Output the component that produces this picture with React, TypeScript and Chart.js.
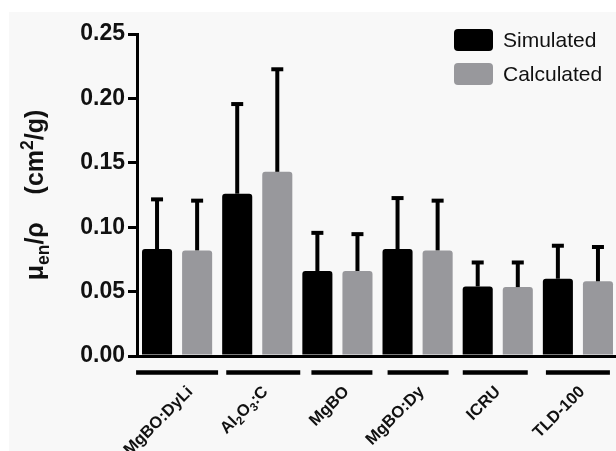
import React, { useEffect, useRef } from 'react';
import { Chart, registerables } from 'chart.js';

Chart.register(...registerables);

const FAMILY = '"Liberation Sans", Arial, Helvetica, sans-serif';

const categories = ['MgBO:DyLi', 'Al_2O_3:C', 'MgBO', 'MgBO:Dy', 'ICRU', 'TLD-100'];
const seriesNames = ['Simulated', 'Calculated'];
const simulated = [0.083, 0.126, 0.066, 0.083, 0.054, 0.060];
const simulatedErr = [0.039, 0.070, 0.030, 0.040, 0.019, 0.026];
const calculated = [0.082, 0.143, 0.066, 0.082, 0.0535, 0.058];
const calculatedErr = [0.039, 0.080, 0.029, 0.039, 0.0195, 0.027];
const yTicks = [0, 0.05, 0.1, 0.15, 0.2, 0.25];
const yTitle = 'μ_{en}/ρ    (cm^{2}/g)';

const seriesColors = ['#000000', '#98989c'];

// style: underline bar extents (px from category centre) and label anchor shifts
const underlineExtents = [
  [-41, 41],
  [-31, 43],
  [-26, 35],
  [-30, 31],
  [-35, 30],
  [-32, 32],
];
const labelShift = [14, 9, 10, 5, 1, 5];

type Seg = { t: string; k: number };

function parseRich(s: string): Seg[] {
  const out: Seg[] = [];
  let buf = '';
  let i = 0;
  const flush = () => {
    if (buf) {
      out.push({ t: buf, k: 0 });
      buf = '';
    }
  };
  while (i < s.length) {
    const c = s[i];
    if (c === '_' || c === '^') {
      flush();
      const k = c === '^' ? 1 : -1;
      let t = '';
      if (s[i + 1] === '{') {
        const j = s.indexOf('}', i + 2);
        t = s.slice(i + 2, j);
        i = j + 1;
      } else {
        t = s[i + 1];
        i += 2;
      }
      out.push({ t, k });
    } else {
      buf += c;
      i++;
    }
  }
  flush();
  return out;
}

function drawRich(
  ctx: CanvasRenderingContext2D,
  s: string,
  x: number,
  y: number,
  size: number,
  weight: string,
  align: 'left' | 'right' | 'center'
) {
  const segs = parseRich(s);
  const font = (sz: number) => `${weight} ${sz}px ${FAMILY}`;
  const widths = segs.map((g) => {
    ctx.font = font(g.k ? size * 0.7 : size);
    return ctx.measureText(g.t).width;
  });
  const total = widths.reduce((a, b) => a + b, 0);
  let cx = align === 'left' ? x : align === 'right' ? x - total : x - total / 2;
  ctx.textAlign = 'left';
  ctx.textBaseline = 'alphabetic';
  segs.forEach((g, idx) => {
    ctx.font = font(g.k ? size * 0.7 : size);
    const dy = g.k === 1 ? -size * 0.42 : g.k === -1 ? size * 0.22 : 0;
    ctx.fillText(g.t, cx, y + dy);
    cx += widths[idx];
  });
}

const decorPlugin = {
  id: 'decor',
  beforeDraw(chart: any) {
    const ctx = chart.ctx as CanvasRenderingContext2D;
    ctx.save();
    ctx.fillStyle = '#ffffff';
    ctx.fillRect(0, 0, chart.width, chart.height);
    ctx.fillStyle = '#f8f8f8';
    ctx.fillRect(9, 12, chart.width - 9, chart.height - 12);
    ctx.restore();
  },
  afterDatasetsDraw(chart: any) {
    const ctx = chart.ctx as CanvasRenderingContext2D;
    const yScale = chart.scales.y;
    const errs = [simulatedErr, calculatedErr];
    const vals = [simulated, calculated];
    ctx.save();
    ctx.strokeStyle = '#000';
    ctx.lineWidth = 4;
    ctx.lineCap = 'butt';
    chart.data.datasets.forEach((_: any, d: number) => {
      const meta = chart.getDatasetMeta(d);
      meta.data.forEach((el: any, i: number) => {
        const top = yScale.getPixelForValue(vals[d][i] + errs[d][i]);
        ctx.beginPath();
        ctx.moveTo(el.x, el.y);
        ctx.lineTo(el.x, top);
        ctx.stroke();
        ctx.beginPath();
        ctx.moveTo(el.x - 6, top + 0.5);
        ctx.lineTo(el.x + 6, top + 0.5);
        ctx.stroke();
      });
    });
    ctx.restore();
  },
  afterDraw(chart: any) {
    const ctx = chart.ctx as CanvasRenderingContext2D;
    const xScale = chart.scales.x;
    const area = chart.chartArea;
    ctx.save();
    ctx.fillStyle = '#111';
    ctx.strokeStyle = '#000';
    categories.forEach((lab, i) => {
      const cx = xScale.getPixelForValue(i);
      const ext = underlineExtents[i];
      ctx.lineWidth = 4.5;
      ctx.beginPath();
      ctx.moveTo(cx + ext[0], area.bottom + 16.5);
      ctx.lineTo(cx + ext[1], area.bottom + 16.5);
      ctx.stroke();
      ctx.save();
      ctx.translate(cx + labelShift[i] - 6, area.bottom + 28);
      ctx.rotate(-Math.PI / 4);
      drawRich(ctx, lab, 0, 12, 16.5, 'bold', 'right');
      ctx.restore();
    });
    // y-axis title
    ctx.save();
    ctx.translate(43, 195);
    ctx.rotate(-Math.PI / 2);
    drawRich(ctx, yTitle, 0, 0, 25, 'bold', 'center');
    ctx.restore();
    // legend
    const lx = 454;
    const ly = [29, 63];
    seriesNames.forEach((name, i) => {
      ctx.fillStyle = seriesColors[i];
      ctx.beginPath();
      (ctx as any).roundRect(lx, ly[i], 39, 22, 4);
      ctx.fill();
      ctx.fillStyle = '#111';
      ctx.font = `normal 21px ${FAMILY}`;
      ctx.textAlign = 'left';
      ctx.textBaseline = 'middle';
      ctx.fillText(name, lx + 49, ly[i] + 12);
    });
    ctx.restore();
  },
};

export default function App() {
  const ref = useRef<HTMLCanvasElement>(null);
  useEffect(() => {
    if (!ref.current) return;
    const chart = new Chart(ref.current, {
      type: 'bar',
      data: {
        labels: categories,
        datasets: [
          {
            label: seriesNames[0],
            data: simulated,
            backgroundColor: seriesColors[0],
            borderRadius: { topLeft: 3, topRight: 3, bottomLeft: 0, bottomRight: 0 },
            borderSkipped: 'start',
            barPercentage: 0.75,
            categoryPercentage: 1,
          },
          {
            label: seriesNames[1],
            data: calculated,
            backgroundColor: seriesColors[1],
            borderRadius: { topLeft: 3, topRight: 3, bottomLeft: 0, bottomRight: 0 },
            borderSkipped: 'start',
            barPercentage: 0.75,
            categoryPercentage: 1,
          },
        ],
      },
      options: {
        animation: false,
        responsive: false,
        maintainAspectRatio: false,
        layout: { padding: { top: 34, right: 6, bottom: 95, left: 0 } },
        plugins: { legend: { display: false }, tooltip: { enabled: false } },
        scales: {
          x: {
            ticks: { display: false },
            grid: { display: false, drawTicks: false },
            border: { display: true, width: 3, color: '#000' },
            afterFit: (s: any) => {
              s.height = 0;
            },
          },
          y: {
            min: 0,
            max: 0.25,
            afterBuildTicks: (s: any) => {
              s.ticks = yTicks.map((v) => ({ value: v }));
            },
            ticks: {
              callback: (v: any) => Number(v).toFixed(2),
              font: { size: 23, weight: 'bold', family: FAMILY },
              color: '#111',
              padding: 3,
            },
            grid: {
              display: true,
              drawOnChartArea: false,
              drawTicks: true,
              tickLength: 9,
              lineWidth: 3,
              color: '#000',
            },
            border: { display: true, width: 3, color: '#000' },
            afterFit: (s: any) => {
              s.width = 137;
            },
          },
        },
      },
      plugins: [decorPlugin],
    } as any);
    return () => chart.destroy();
  }, []);
  return (
    <div style={{ position: 'fixed', left: 0, top: 0, width: 624, height: 451 }}>
      <canvas ref={ref} width={624} height={451} style={{ width: 624, height: 451, display: 'block' }} />
    </div>
  );
}
